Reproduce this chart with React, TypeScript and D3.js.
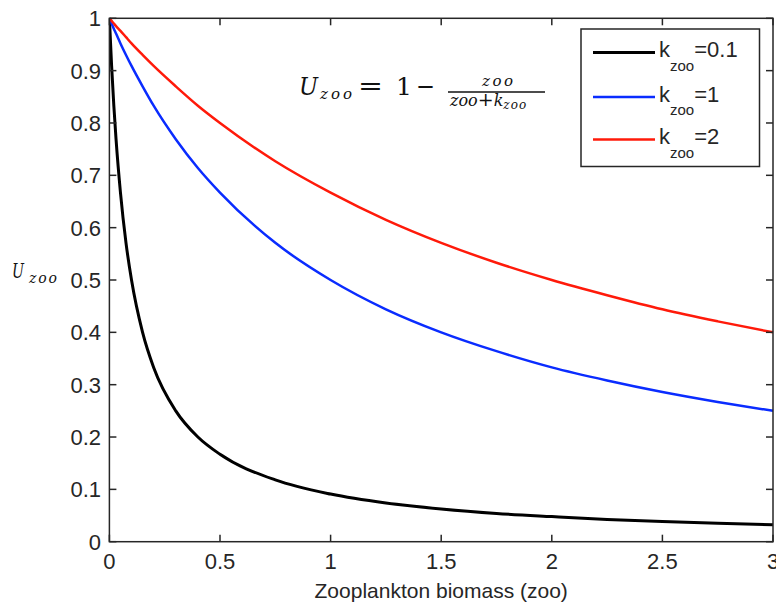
import React from "react";
import * as d3 from "d3";

// Zooplankton biomass samples (x) and U_zoo values
const zoo = [0, 0.01, 0.02, 0.03, 0.05, 0.075, 0.1, 0.15, 0.2, 0.3, 0.4, 0.5, 0.75, 1, 1.25, 1.5, 1.75, 2, 2.25, 2.5, 2.75, 3];
const uK01 = [1, 0.909, 0.833, 0.769, 0.667, 0.571, 0.5, 0.4, 0.333, 0.25, 0.2, 0.167, 0.118, 0.091, 0.074, 0.0625, 0.054, 0.048, 0.0426, 0.0385, 0.0351, 0.0323];
const uK1 = [1, 0.99, 0.98, 0.971, 0.952, 0.93, 0.909, 0.87, 0.833, 0.769, 0.714, 0.667, 0.571, 0.5, 0.444, 0.4, 0.364, 0.333, 0.308, 0.286, 0.267, 0.25];
const uK2 = [1, 0.995, 0.99, 0.985, 0.976, 0.964, 0.952, 0.93, 0.909, 0.87, 0.833, 0.8, 0.727, 0.667, 0.615, 0.571, 0.533, 0.5, 0.471, 0.444, 0.421, 0.4];

const seriesLabels = ["0.1", "1", "2"];
const seriesColors = ["#000000", "#0a2cff", "#ff1a0a"];
const seriesWidths = [3, 2.5, 2.5];
const xTicks = [0, 0.5, 1, 1.5, 2, 2.5, 3];
const xTickLabels = ["0", "0.5", "1", "1.5", "2", "2.5", "3"];
const yTicks = [0, 0.1, 0.2, 0.3, 0.4, 0.5, 0.6, 0.7, 0.8, 0.9, 1];
const yTickLabels = ["0", "0.1", "0.2", "0.3", "0.4", "0.5", "0.6", "0.7", "0.8", "0.9", "1"];
const xLabel = "Zooplankton biomass (zoo)";

export default function App() {
  const W = 776, H = 607;
  const left = 109.4, right = 773, top = 18.3, bottom = 541.7;
  const x = d3.scaleLinear().domain([0, 3]).range([left, right]);
  const y = d3.scaleLinear().domain([0, 1]).range([bottom, top]);
  const series = [uK01, uK1, uK2];
  const line = d3.line<number>()
    .x((_, i) => x(zoo[i]))
    .y((d) => y(d))
    .curve(d3.curveMonotoneX);
  const axisColor = "#262626";
  const font = "Liberation Sans, Arial, sans-serif";
  const serif = "DejaVu Serif, Liberation Serif, serif";
  const tl = 7;

  const legX = 581, legY = 29, legW = 178.5, legH = 137.5;
  const rowY = [52.5, 97, 139.5];

  return (
    <svg width={W} height={H} style={{ position: "absolute", left: 0, top: 0, background: "#fff" }}>
      <rect x={0} y={0} width={W} height={H} fill="#fff" />
      <defs>
        <clipPath id="plotclip">
          <rect x={left} y={top - 2} width={right - left + 2} height={bottom - top + 4} />
        </clipPath>
      </defs>
      {/* curves */}
      <g clipPath="url(#plotclip)">
        {series.map((s, i) => (
          <path key={i} d={line(s) || ""} fill="none" stroke={seriesColors[i]} strokeWidth={seriesWidths[i]} strokeLinejoin="round" />
        ))}
      </g>
      {/* box */}
      <rect x={left} y={top} width={right - left} height={bottom - top} fill="none" stroke={axisColor} strokeWidth={1.5} />
      {/* x ticks */}
      {xTicks.map((t, i) => (
        <g key={"xt" + i}>
          <line x1={x(t)} x2={x(t)} y1={bottom} y2={bottom - tl} stroke={axisColor} strokeWidth={1.5} />
          <line x1={x(t)} x2={x(t)} y1={top} y2={top + tl} stroke={axisColor} strokeWidth={1.5} />
          <text x={x(t)} y={569} textAnchor="middle" fontFamily={font} fontSize={22} fill={axisColor}>{xTickLabels[i]}</text>
        </g>
      ))}
      {/* y ticks */}
      {yTicks.map((t, i) => (
        <g key={"yt" + i}>
          <line x1={left} x2={left + tl} y1={y(t)} y2={y(t)} stroke={axisColor} strokeWidth={1.5} />
          <line x1={right} x2={right - tl} y1={y(t)} y2={y(t)} stroke={axisColor} strokeWidth={1.5} />
          <text x={101} y={y(t) + 8} textAnchor="end" fontFamily={font} fontSize={22} fill={axisColor}>{yTickLabels[i]}</text>
        </g>
      ))}
      {/* x label */}
      <text x={(left + right) / 2} y={598} textAnchor="middle" fontFamily={font} fontSize={21} fill={axisColor}>{xLabel}</text>
      {/* y label */}
      <g fontFamily={serif} fontStyle="italic" fill="#111">
        <text x={12} y={278} fontSize={21} textLength={12} lengthAdjust="spacingAndGlyphs">U</text>
        <text x={29} y={283} fontSize={14} textLength={28} lengthAdjust="spacing">zoo</text>
      </g>
      {/* formula */}
      <g fontFamily={serif} fill="#111">
        <text x={299} y={95} fontSize={25} fontStyle="italic" textLength={19} lengthAdjust="spacingAndGlyphs">U</text>
        <text x={320} y={99} fontSize={15} fontStyle="italic" textLength={32} lengthAdjust="spacing">zoo</text>
        <text x={358} y={95} fontSize={26} textLength={25} lengthAdjust="spacingAndGlyphs">=</text>
        <text x={396} y={95} fontSize={25}>1</text>
        <text x={416} y={95} fontSize={26} textLength={19} lengthAdjust="spacingAndGlyphs">−</text>
        <text x={482} y={86} fontSize={15} fontStyle="italic" textLength={31} lengthAdjust="spacing">zoo</text>
        <line x1={448} x2={545} y1={92} y2={92} stroke="#111" strokeWidth={1.3} />
        <text x={450} y={106} fontSize={16} fontStyle="italic">
          <tspan>zoo</tspan><tspan fontStyle="normal" fontSize={19}>+</tspan><tspan>k</tspan><tspan fontSize={12} dy={3} letterSpacing={1}>zoo</tspan>
        </text>
      </g>
      {/* legend */}
      <rect x={legX} y={legY} width={legW} height={legH} fill="#fff" stroke={axisColor} strokeWidth={1.5} />
      {seriesLabels.map((lab, i) => (
        <g key={"lg" + i}>
          <line x1={593} x2={655} y1={rowY[i]} y2={rowY[i]} stroke={seriesColors[i]} strokeWidth={seriesWidths[i]} />
          <text x={659} y={rowY[i] + 4.5} fontFamily={font} fontSize={22} fill={axisColor}>
            k<tspan fontSize={15} dy={13.5}>zoo</tspan><tspan dy={-13.5}>={lab}</tspan>
          </text>
        </g>
      ))}
    </svg>
  );
}
